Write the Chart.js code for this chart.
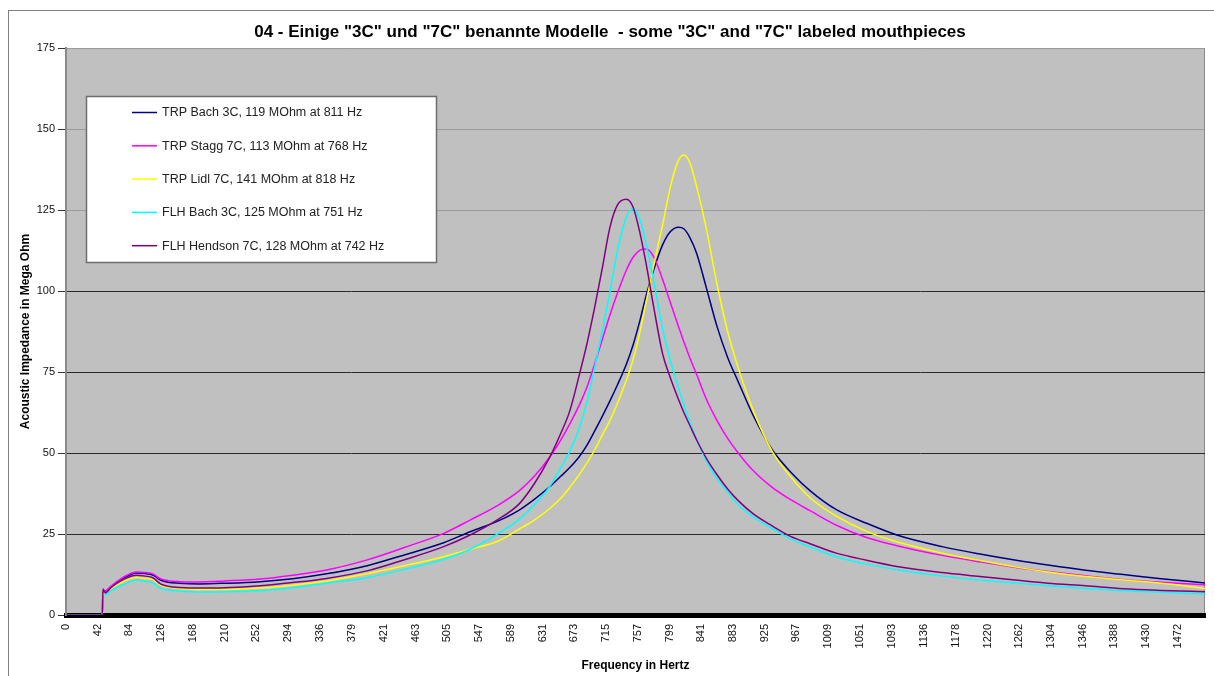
<!DOCTYPE html>
<html><head><meta charset="utf-8">
<script src="https://cdn.jsdelivr.net/npm/chart.js@4.4.0/dist/chart.umd.min.js"></script>
<style>
html,body{margin:0;padding:0;background:#fff;}
#wrap{position:relative;width:1214px;height:676px;overflow:hidden;}
#frame{position:absolute;left:8px;top:10px;width:1240px;height:720px;border:1px solid #808080;box-sizing:border-box;pointer-events:none}
canvas{position:absolute;left:0;top:0}
</style></head><body>
<div id="wrap"><canvas id="c" width="1214" height="676"></canvas><div id="frame"></div></div>
<script>
const titleText = '04 - Einige "3C" und "7C" benannte Modelle  - some "3C" and "7C" labeled mouthpieces';
const xTitle = 'Frequency in Hertz';
const yTitle = 'Acoustic Impedance in Mega Ohm';
const xTickLabels = [0,42,84,126,168,210,252,294,336,379,421,463,505,547,589,631,673,715,757,799,841,883,925,967,1009,1051,1093,1136,1178,1220,1262,1304,1346,1388,1430,1472];
const yTickValues = [0,25,50,75,100,125,150,175];
const freq = [0,48,49,52,60,70,80,93,105,115,125,135,150,177,210,257,300,345,400,450,500,535,570,600,620,640,655,667,680,690,700,710,720,730,742,751,760,768,778,790,800,811,818,826,835,848,862,876,890,910,935,960,985,1020,1060,1100,1160,1210,1260,1300,1350,1400,1450,1508];
const seriesNames = ["TRP Bach 3C, 119 MOhm at 811 Hz","TRP Stagg 7C, 113 MOhm at 768 Hz","TRP Lidl 7C, 141 MOhm at 818 Hz","FLH Bach 3C, 125 MOhm at 751 Hz","FLH Hendson 7C, 128 MOhm at 742 Hz"];
const trpBach3C = [0,0,6.5,7.0,8.6,10.3,11.8,13.0,12.8,12.3,10.8,10.1,9.8,9.6,9.8,10.3,11.2,12.7,15.3,18.7,22.3,25.7,28.8,32.4,35.7,39.5,42.8,45.5,49.0,52.5,56.8,61.3,66.0,71.0,77.5,83.5,91.0,98.5,106.5,114.3,118.3,119.7,119.2,116.5,111.6,100.8,89.0,79.5,72.0,61.5,51.0,44.0,38.4,32.5,28.3,24.7,21.1,18.8,16.8,15.4,13.8,12.5,11.2,9.9];
const trpStagg7C = [0,0,7.0,7.5,9.0,10.8,12.2,13.3,13.1,12.7,11.2,10.6,10.3,10.2,10.5,11.1,12.3,13.9,17.1,21.0,25.2,29.3,33.6,38.3,42.8,48.6,54.0,59.0,65.0,70.5,77.5,85.0,92.5,99.3,106.5,110.5,112.6,113.0,110.6,103.5,96.5,89.0,84.3,79.3,74.2,66.5,60.0,54.5,50.0,44.5,39.4,35.5,32.2,27.7,23.9,21.4,18.4,16.4,14.6,13.4,12.1,10.9,10.1,9.3];
const trpLidl7C = [0,0,6.3,6.8,8.2,9.6,10.8,11.6,11.3,10.9,9.2,8.6,8.2,7.9,7.9,8.3,9.2,10.5,12.8,15.3,18.0,20.3,22.6,26.5,29.3,32.8,36.0,39.4,43.5,47.0,51.0,55.5,60.0,65.3,72.5,79.0,87.5,96.5,107.8,120.5,132.0,140.4,142.0,139.6,132.2,119.0,102.0,87.5,76.3,63.0,50.5,42.5,36.2,30.5,25.8,22.6,19.1,16.8,14.7,13.3,11.9,10.8,9.8,8.2];
const flhBach3C = [0,0,5.8,6.3,7.5,8.8,9.8,10.8,10.4,9.9,8.3,7.7,7.4,7.1,7.2,7.5,8.4,9.8,11.6,14.2,17.2,20.3,24.8,29.5,34.0,39.5,45.5,50.5,58.0,66.0,76.5,87.5,99.5,112.3,122.8,125.5,121.9,114.5,103.4,88.2,78.7,70.0,65.0,59.5,54.0,47.5,42.0,38.0,34.0,30.2,26.7,23.4,21.0,18.0,15.7,14.0,12.0,10.8,9.8,9.0,8.2,7.5,7.0,6.5];
const flhHendson7C = [0,0,8.0,6.8,8.5,10.2,11.4,12.3,12.0,11.5,9.6,8.9,8.5,8.3,8.4,9.0,10.0,11.3,13.7,17.2,21.1,24.7,29.2,34.3,40.5,48.5,56.0,63.0,74.5,84.0,95.0,107.0,119.5,126.5,128.3,125.8,117.8,108.5,95.2,80.5,73.3,66.5,62.5,58.5,54.0,48.3,43.3,38.9,35.3,31.2,27.5,24.2,22.0,19.1,16.9,15.0,13.1,11.9,10.7,9.8,9.0,8.1,7.6,7.2];
const seriesValues = [trpBach3C, trpStagg7C, trpLidl7C, flhBach3C, flhHendson7C];
const seriesColors = ['#000080','#ff00ff','#ffff00','#00ffff','#800080'];

Chart.defaults.font.family = "'Liberation Sans', Arial, sans-serif";
Chart.defaults.color = '#000';

const datasets = seriesValues.map((vals, i) => ({
  label: seriesNames[i],
  data: vals.map((v, j) => ({x: freq[j], y: v})),
  borderColor: seriesColors[i],
  backgroundColor: seriesColors[i],
  borderWidth: 1.5,
  pointRadius: 0,
  cubicInterpolationMode: 'monotone',
  fill: false,
  order: 5 - i
}));

const plotBg = {
  id: 'plotBg',
  beforeDraw(chart) {
    const {ctx, chartArea: a} = chart;
    ctx.save();
    ctx.fillStyle = '#c0c0c0';
    ctx.fillRect(a.left, a.top, a.right - a.left, a.bottom - a.top);
    ctx.strokeStyle = '#8a8a8a';
    ctx.lineWidth = 1;
    ctx.strokeRect(a.left + 0.5, a.top + 0.5, a.right - a.left - 1, a.bottom - a.top - 1);
    ctx.fillStyle = '#000';
    ctx.font = "bold 17px 'Liberation Sans', Arial, sans-serif";
    ctx.textAlign = 'center';
    ctx.textBaseline = 'middle';
    ctx.fillText(titleText, 610, 32);
    ctx.restore();
  }
};

const legendBox = {
  id: 'legendBox',
  afterDraw(chart) {
    const ctx = chart.ctx;
    ctx.save();
    ctx.fillStyle = '#fff';
    ctx.fillRect(86, 96, 351, 167);
    ctx.strokeStyle = '#6e6e6e';
    ctx.lineWidth = 1.5;
    ctx.strokeRect(86.5, 96.5, 350, 166);
    chart.data.datasets.forEach((ds, i) => {
      const y = 112.5 + i * 33.3;
      ctx.strokeStyle = ds.borderColor;
      ctx.lineWidth = 1.5;
      ctx.beginPath();
      ctx.moveTo(132, y);
      ctx.lineTo(157, y);
      ctx.stroke();
      ctx.fillStyle = '#222';
      ctx.font = "12.5px 'Liberation Sans', Arial, sans-serif";
      ctx.textBaseline = 'middle';
      ctx.textAlign = 'left';
      ctx.fillText(ds.label, 162, y + 0.5);
    });
    ctx.restore();
  }
};

new Chart(document.getElementById('c'), {
  type: 'line',
  data: {datasets},
  plugins: [plotBg, legendBox],
  options: {
    responsive: false,
    animation: false,
    devicePixelRatio: 1,
    layout: {padding: {left: 0, right: 9, top: 48, bottom: 0}},
    plugins: {
      legend: {display: false},
      tooltip: {enabled: false},
      title: {display: false}
    },
    scales: {
      x: {
        type: 'linear',
        min: 0,
        max: 1508,
        afterBuildTicks(s) { s.ticks = xTickLabels.map(v => ({value: v})); },
        afterFit(s) { s.height = 61; },
        ticks: {
          autoSkip: false,
          minRotation: 90,
          maxRotation: 90,
          padding: 9,
          color: '#111',
          font: {size: 11},
          callback: v => String(v)
        },
        grid: {display: false, drawTicks: false},
        border: {display: true, color: '#000', width: 5},
        title: {display: true, text: xTitle, color: '#000', font: {size: 12, weight: 'bold'}, padding: {top: 0, bottom: 3}}
      },
      y: {
        type: 'linear',
        min: 0,
        max: 175,
        afterBuildTicks(s) { s.ticks = yTickValues.map(v => ({value: v})); },
        afterFit(s) { s.width = 66; },
        ticks: {padding: 3, color: '#111', font: {size: 11}},
        grid: {
          color: c => (c.tick && c.tick.value >= 125) ? '#9a9a9a' : '#2b2b2b',
          lineWidth: 1,
          tickLength: 8,
          tickColor: '#333'
        },
        border: {display: true, color: '#8a8a8a', width: 2},
        title: {display: true, text: yTitle, color: '#000', font: {size: 12, weight: 'bold'}, padding: {top: 18, bottom: 0}}
      }
    }
  }
});
</script>
</body></html>
